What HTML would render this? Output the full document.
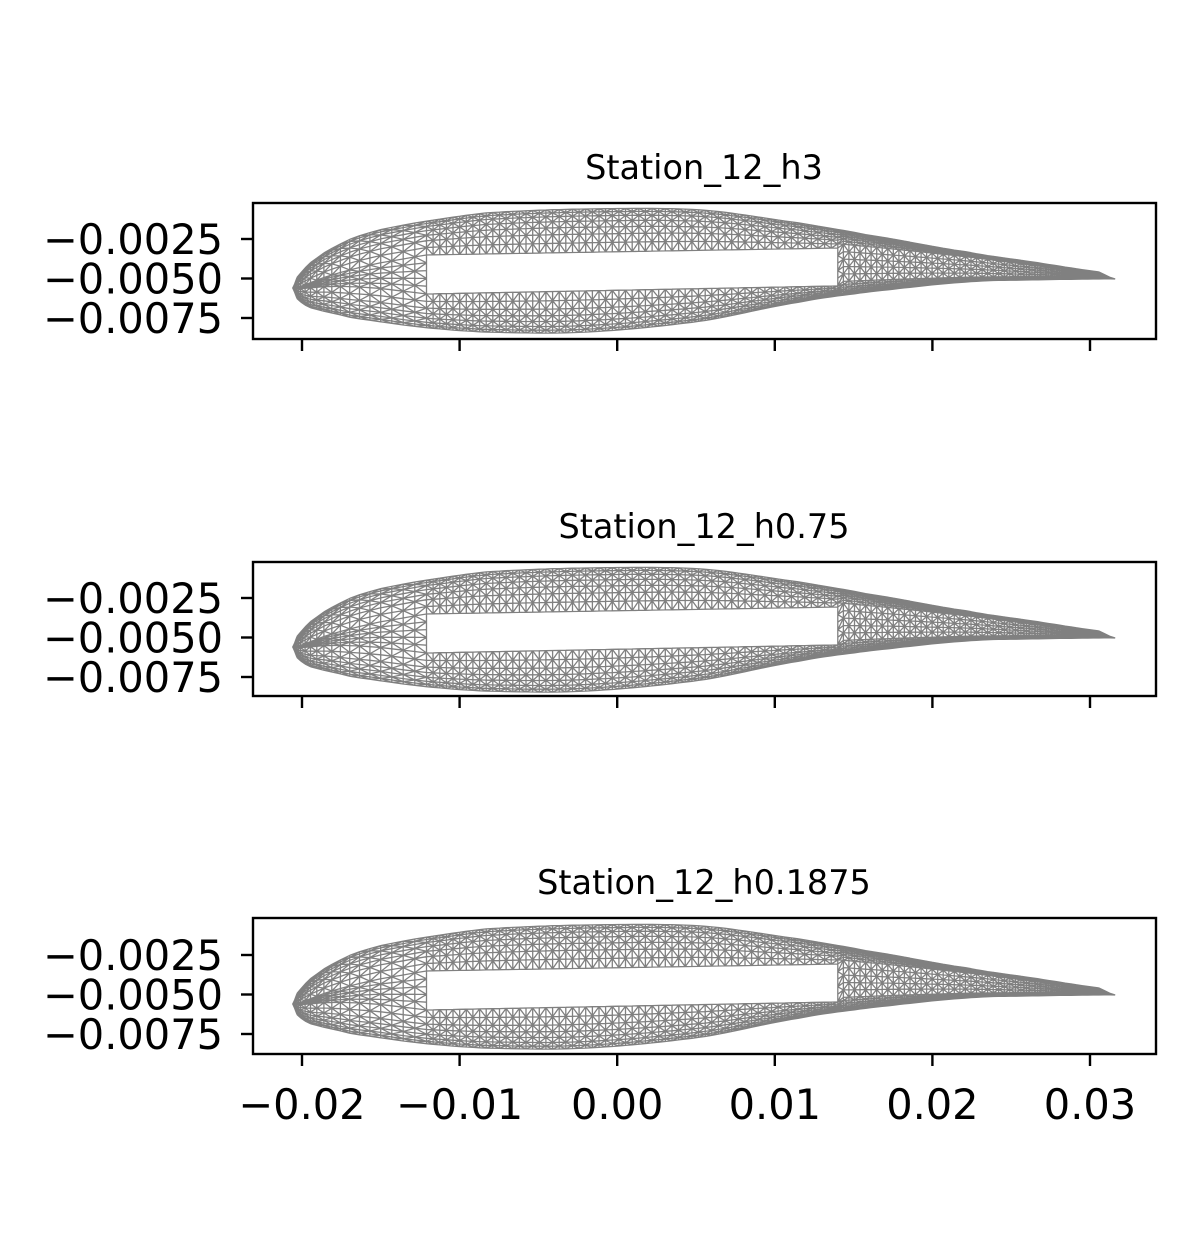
<!DOCTYPE html>
<html><head><meta charset="utf-8"><style>
html,body{margin:0;padding:0;background:#fff;}
svg{display:block;font-family:"DejaVu Sans","Liberation Sans",sans-serif;}
</style></head><body>
<svg id="fig" width="1200" height="1259" viewBox="0 0 1200 1259" xmlns="http://www.w3.org/2000/svg"></svg>
<script>
const titles = ["Station_12_h3","Station_12_h0.75","Station_12_h0.1875"];
const xTicks = [-0.02,-0.01,0.00,0.01,0.02,0.03];
const xTickLabels = ["\u22120.02","\u22120.01","0.00","0.01","0.02","0.03"];
const yTicks = [-0.0025,-0.0050,-0.0075];
const yTickLabels = ["\u22120.0025","\u22120.0050","\u22120.0075"];
const upperX = [-0.0206,-0.0203,-0.0196,-0.0185,-0.0168,-0.0150,-0.0125,-0.0083,-0.0020,0.0053,0.0116,0.0159,0.0222,0.0264,0.0306,0.0316];
const upperY = [-0.0056,-0.00490,-0.00410,-0.00330,-0.00245,-0.00190,-0.00142,-0.00085,-0.00060,-0.00066,-0.00149,-0.00225,-0.00332,-0.00396,-0.00459,-0.00503];
const lowerX = [-0.0206,-0.0203,-0.0196,-0.0185,-0.0168,-0.0125,-0.0083,-0.0020,0.0053,0.0116,0.0159,0.0222,0.0264,0.0306,0.0316];
const lowerY = [-0.0056,-0.00630,-0.00680,-0.00710,-0.00750,-0.00807,-0.00839,-0.00839,-0.00770,-0.00649,-0.00585,-0.00522,-0.00509,-0.00503,-0.00503];
const boxX = [-0.0121, 0.0140];
const boxTopY = [-0.00351, -0.00307];
const boxBotY = [-0.00598, -0.00547];

const NS="http://www.w3.org/2000/svg";
const svg=document.getElementById('fig');
const axL=253, axR=1156;
const frames=[[203,339],[562,696],[918,1054]];
const yRef=[239,598,955];
function xs(x){return 302+(x+0.02)*15760;}
function mk(tag,attrs){const e=document.createElementNS(NS,tag);for(const k in attrs)e.setAttribute(k,attrs[k]);return e;}
function interp(X,Y,x){
  if(x<=X[0])return Y[0];
  for(let i=1;i<X.length;i++){if(x<=X[i]){
    const t=(x-X[i-1])/(X[i]-X[i-1]);
    const p0=Y[Math.max(i-2,0)],p1=Y[i-1],p2=Y[i],p3=Y[Math.min(i+1,Y.length-1)];
    const t2=t*t,t3=t2*t;
    return 0.5*((2*p1)+(-p0+p2)*t+(2*p0-5*p1+4*p2-p3)*t2+(-p0+3*p1-3*p2+p3)*t3);
  }}
  return Y[Y.length-1];
}
function lerp(a,b,t){return a+(b-a)*t;}
const le=upperX[0],te=upperX[upperX.length-1];
const cols=[];
const nNose=18,nBox=62,nTail=50;
for(let i=0;i<nNose;i++){const t=i/nNose;cols.push(le+(boxX[0]-le)*(1-Math.cos(t*Math.PI/2)));}
for(let i=0;i<nBox;i++){cols.push(lerp(boxX[0],boxX[1],i/nBox));}
for(let i=0;i<=nTail;i++){cols.push(lerp(boxX[1],te,i/nTail));}
const M=7, K=4;
const band=[0,0.07,0.16,0.28,0.42,0.58,0.78,1];
function inClosedBox(x){return x>=boxX[0]-1e-9&&x<=boxX[1]+1e-9;}
function column(x){
  const yu=interp(upperX,upperY,x),yl=interp(lowerX,lowerY,x);
  let a,b,inBox=false;
  if(inClosedBox(x)){
    const t=(x-boxX[0])/(boxX[1]-boxX[0]);
    a=lerp(boxTopY[0],boxTopY[1],t);b=lerp(boxBotY[0],boxBotY[1],t);
    inBox=(x>boxX[0]+1e-9&&x<boxX[1]-1e-9);
  } else if(x<boxX[0]){
    const f=(x-le)/(boxX[0]-le);
    const mid=(yu+yl)/2, h=(boxTopY[0]-boxBotY[0])/2*Math.max(f,0);
    a=mid+h;b=mid-h;
  } else {
    const f=1-(x-boxX[1])/(te-boxX[1]);
    const mid=(yu+yl)/2, h=(boxTopY[1]-boxBotY[1])/2*f;
    a=mid+h;b=mid-h;
  }
  const pts=[];
  for(let j=0;j<=M;j++)pts.push([x,lerp(yu,a,band[j])]);
  for(let j=1;j<=K;j++)pts.push([x,lerp(a,b,j/(K+1))]);
  for(let j=M;j>=0;j--)pts.push([x,lerp(yl,b,band[j])]);
  return {pts,inBox,closed:inClosedBox(x)};
}
const colData=cols.map(column);

frames.forEach((fr,k)=>{
  const g=mk('g',{});
  
  
  svg.appendChild(g);
  const ys=y=>yRef[k]-(y+0.0025)*15800;
  const f=p=>xs(p[0]).toFixed(1)+' '+ys(p[1]).toFixed(1);
  let d='';
  for(let c=0;c<colData.length;c++){
    const C=colData[c],P=C.pts;
    for(let j=0;j<P.length-1;j++){
      if(j>=M&&j<=M+K&&C.inBox)continue;
      d+='M'+f(P[j])+'L'+f(P[j+1]);
    }
    if(c<colData.length-1){
      const D=colData[c+1],Q=D.pts;
      const bothBox=C.closed&&D.closed;
      for(let j=0;j<P.length;j++){
        if(!(bothBox&&j>M&&j<=M+K))d+='M'+f(P[j])+'L'+f(Q[j]);
        if(j<P.length-1){
          if(bothBox&&j>=M&&j<=M+K)continue;
          if((c+j)%2===0)d+='M'+f(P[j])+'L'+f(Q[j+1]);else d+='M'+f(Q[j])+'L'+f(P[j+1]);
        }
      }
    }
  }
  const mesh=mk('path',{d:d,fill:'none',stroke:'#808080','stroke-width':'1.3','stroke-linejoin':'round'});
  
  
  g.appendChild(mesh);
  const frame=mk('rect',{x:axL,y:fr[0],width:axR-axL,height:fr[1]-fr[0],fill:'none',stroke:'#000','stroke-width':'2.4'});
  
  
  g.appendChild(frame);
  const title=mk('text',{x:704,y:fr[0]-24,'font-size':'33.5','text-anchor':'middle',fill:'#000'});
  title.textContent=titles[k];
  
  
  g.appendChild(title);
  xTicks.forEach((v,i)=>{
    const x=xs(v);
    const t=mk('line',{x1:x,x2:x,y1:fr[1],y2:fr[1]+12,stroke:'#000','stroke-width':'2.4'});
    
    
    g.appendChild(t);
    if(k===2){
      const lb=mk('text',{x:x,y:fr[1]+65,'font-size':'41.5','text-anchor':'middle',fill:'#000'});
      lb.textContent=xTickLabels[i];
      
      
      g.appendChild(lb);
    }
  });
  yTicks.forEach((v,i)=>{
    const y=ys(v);
    const t=mk('line',{x1:axL-12,x2:axL,y1:y,y2:y,stroke:'#000','stroke-width':'2.4'});
    
    
    g.appendChild(t);
    const lb=mk('text',{x:axL-30,y:y+15,'font-size':'41.5','text-anchor':'end',fill:'#000'});
    lb.textContent=yTickLabels[i];
    
    
    g.appendChild(lb);
  });
});
</script>
</body></html>
